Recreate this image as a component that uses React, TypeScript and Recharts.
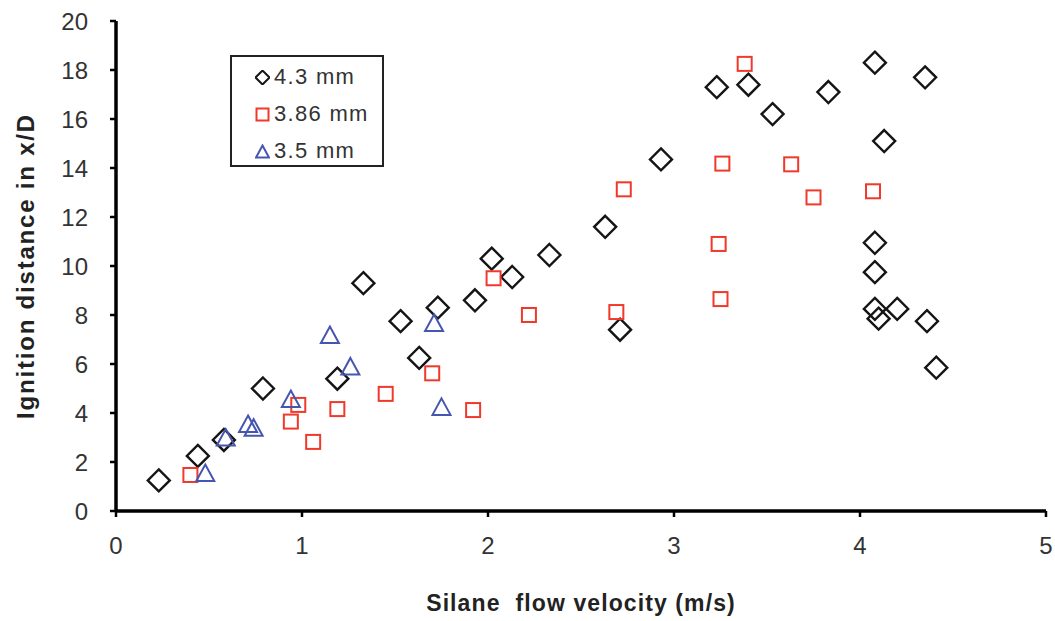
import { ScatterChart, Scatter, XAxis, YAxis, Label } from "recharts";

const X_TICKS = [0, 1, 2, 3, 4, 5];
const Y_TICKS = [0, 2, 4, 6, 8, 10, 12, 14, 16, 18, 20];

const SERIES_NAMES = ["4.3 mm", "3.86 mm", "3.5 mm"];

const d43X = [0.23, 0.44, 0.58, 0.79, 1.19, 1.33, 1.53, 1.63, 1.73, 1.93, 2.02, 2.13, 2.33, 2.63, 2.71, 2.93, 3.23, 3.4, 3.53, 3.83, 4.08, 4.35, 4.13, 4.08, 4.08, 4.08, 4.1, 4.2, 4.36, 4.41];
const d43Y = [1.25, 2.25, 2.9, 5.0, 5.4, 9.3, 7.75, 6.25, 8.3, 8.6, 10.3, 9.55, 10.45, 11.6, 7.4, 14.35, 17.3, 17.4, 16.2, 17.1, 18.3, 17.7, 15.1, 10.95, 9.75, 8.25, 7.85, 8.25, 7.75, 5.85];

const d386X = [0.4, 0.94, 0.98, 1.06, 1.19, 1.45, 1.7, 1.92, 2.03, 2.22, 2.69, 2.73, 3.24, 3.25, 3.26, 3.38, 3.63, 3.75, 4.07];
const d386Y = [1.47, 3.65, 4.33, 2.82, 4.16, 4.78, 5.62, 4.12, 9.5, 8.0, 8.12, 13.13, 10.9, 8.65, 14.18, 18.25, 14.15, 12.8, 13.05];

const d35X = [0.48, 0.59, 0.71, 0.74, 0.94, 1.15, 1.26, 1.71, 1.75];
const d35Y = [1.55, 3.0, 3.55, 3.4, 4.57, 7.18, 5.9, 7.67, 4.25];

const BLACK = "#151515";
const RED = "#f0392b";
const BLUE = "#4656b0";
const FONT = "'Liberation Sans', Arial, Helvetica, sans-serif";

const zip = (xs: number[], ys: number[]) => xs.map((x, i) => ({ x, y: ys[i] }));

const Diamond = ({ cx, cy }: any) => (
  <path d={`M${cx},${cy - 11}L${cx + 11},${cy}L${cx},${cy + 11}L${cx - 11},${cy}Z`} fill="none" stroke={BLACK} strokeWidth={2.4} />
);
const Square = ({ cx, cy }: any) => (
  <rect x={cx - 7} y={cy - 7} width={14} height={14} fill="none" stroke={RED} strokeWidth={2} />
);
const Triangle = ({ cx, cy }: any) => (
  <path d={`M${cx},${cy - 8.5}L${cx + 9},${cy + 8}L${cx - 9},${cy + 8}Z`} fill="none" stroke={BLUE} strokeWidth={2} />
);

function LegendBox() {
  const marks = [
    <path d="M7,0L14,7L7,14L0,7Z" fill="none" stroke={BLACK} strokeWidth={2} />,
    <rect x={1} y={1} width={12} height={12} fill="none" stroke={RED} strokeWidth={2} />,
    <path d="M7,1L13.5,13L0.5,13Z" fill="none" stroke={BLUE} strokeWidth={2} />,
  ];
  return (
    <div
      style={{
        position: "absolute",
        left: 230,
        top: 55,
        width: 150,
        height: 108,
        border: "2px solid #222",
        background: "#fff",
        fontFamily: FONT,
        fontSize: 22,
        letterSpacing: 1.3,
        color: "#333",
      }}
    >
      {SERIES_NAMES.map((name, i) => (
        <div key={name} style={{ position: "absolute", left: 23, top: 7 + i * 37, display: "flex", alignItems: "center", height: 26 }}>
          <svg width={15} height={15} viewBox="-0.5 -0.5 15 15" style={{ marginRight: 4 }}>
            {marks[i]}
          </svg>
          <span>{name}</span>
        </div>
      ))}
    </div>
  );
}

export default function App() {
  return (
    <div style={{ position: "absolute", left: 0, top: 0, width: 1055, height: 621, background: "#fff" }}>
      <ScatterChart width={1055} height={621} margin={{ top: 21, right: 9, left: 0, bottom: 0 }}>
        <XAxis
          type="number"
          dataKey="x"
          domain={[0, 5]}
          ticks={X_TICKS}
          height={110}
          stroke="#000"
          axisLine={{ stroke: "#000", strokeWidth: 3.5 }}
          tickLine={{ stroke: "#000", strokeWidth: 2.5 }}
          tickSize={6}
          tickMargin={20}
          tick={{ fill: "#333", fontSize: 24, fontFamily: FONT }}
        >
          <Label
            value={"Silane\u00a0 flow velocity (m/s)"}
            position="insideBottom"
            offset={10}
            style={{ fill: "#222", fontSize: 23, fontWeight: "bold", fontFamily: FONT, letterSpacing: 1.1 }}
          />
        </XAxis>
        <YAxis
          type="number"
          dataKey="y"
          domain={[0, 20]}
          ticks={Y_TICKS}
          width={116}
          axisLine={{ stroke: "#000", strokeWidth: 3.5 }}
          tickLine={{ stroke: "#000", strokeWidth: 2.5 }}
          tickSize={6}
          tickMargin={22}
          tick={{ fill: "#333", fontSize: 24, fontFamily: FONT }}
        >
          <Label
            content={({ viewBox }: any) => {
              const cx = viewBox.x + 25;
              const cy = viewBox.y + viewBox.height / 2;
              return (
                <text
                  x={cx}
                  y={cy}
                  transform={`rotate(-90 ${cx} ${cy})`}
                  textAnchor="middle"
                  dominantBaseline="central"
                  style={{ fill: "#222", fontSize: 24, fontWeight: "bold", fontFamily: FONT, letterSpacing: 1.8 }}
                >
                  Ignition distance in x/D
                </text>
              );
            }}
          />
        </YAxis>
        <Scatter name={SERIES_NAMES[0]} data={zip(d43X, d43Y)} shape={<Diamond />} isAnimationActive={false} />
        <Scatter name={SERIES_NAMES[1]} data={zip(d386X, d386Y)} shape={<Square />} isAnimationActive={false} />
        <Scatter name={SERIES_NAMES[2]} data={zip(d35X, d35Y)} shape={<Triangle />} isAnimationActive={false} />
      </ScatterChart>
      <LegendBox />
    </div>
  );
}
